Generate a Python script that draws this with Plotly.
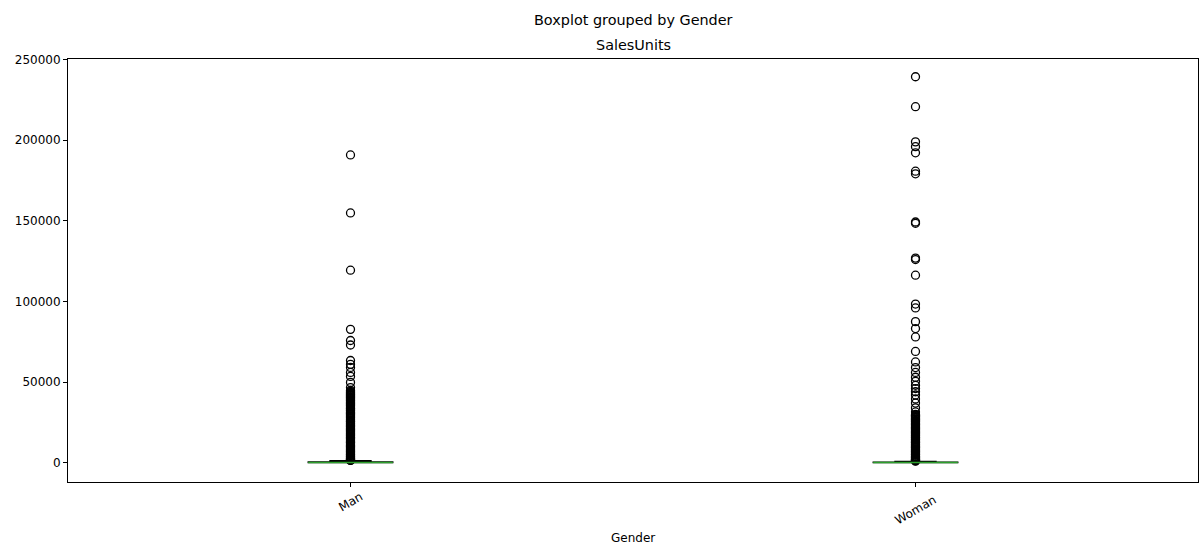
import plotly.graph_objects as go

# Box statistics of SalesUnits per gender
genders = ["Man", "Woman"]
q1 = [20, 15]
medians = [150, 100]
q3 = [600, 350]
lower_fence = [0, 0]
upper_fence = [1300, 800]

# Points beyond the upper whisker
man_outliers = [
    190900, 154900, 119400, 82700, 75800, 73000, 63400, 61000, 59100,
    56000, 53500, 49800, 46600, 44800, 44300, 43700, 43200, 42800, 42300,
    41900, 41400, 41000, 40500, 40100, 39600, 39000, 38600, 38100, 37500,
    37000, 36600, 36200, 35700, 35100, 34600, 34000, 33600, 33200, 32600,
    32100, 31500, 31000, 30600, 30200, 29700, 29100, 28500, 28000, 27300,
    26600, 26000, 25600, 25200, 24700, 24100, 23500, 23000, 22600, 22200,
    21600, 21000, 20600, 20100, 19700, 19200, 18600, 18000, 17600, 17100,
    16500, 16000, 15600, 15200, 14700, 14100, 13500, 13000, 12600, 12200,
    11600, 11000, 10600, 10100, 9700, 9200, 8700, 8100, 7500, 7000, 6600,
    6200, 5600, 5100, 4700, 4300, 3900, 3500, 3100, 2800, 2500, 2200, 1900,
    1700, 1500, 1400,
]
woman_outliers = [
    239400, 220800, 199000, 196000, 192200, 180800, 179200, 149300, 148500,
    126900, 126000, 116300, 98400, 96000, 87500, 83200, 78000, 69000, 62500,
    59000, 56000, 53000, 50500, 48000, 46000, 44000, 42000, 39500, 37000,
    34000, 31500, 30000, 29500, 29100, 28600, 28200, 27600, 27100, 26700,
    26300, 25700, 25200, 24600, 24100, 23700, 23300, 22600, 22000, 21600,
    21200, 20600, 20100, 19500, 19000, 18600, 18200, 17600, 17100, 16500,
    16000, 15600, 15200, 14600, 14100, 13500, 13000, 12600, 12200, 11600,
    11100, 10500, 10000, 9600, 9200, 8600, 8100, 7500, 7000, 6600, 6200,
    5600, 5100, 4700, 4200, 3800, 3400, 3000, 2600, 2200, 1900, 1600, 1400,
    1200, 1000,
]
outliers = [man_outliers, woman_outliers]

positions = [1, 2]
box_width = 0.15
median_color = "#2ca02c"
font_family = "DejaVu Sans"

fig = go.Figure()

for pos, name, a, m, b, lo, hi, pts in zip(
    positions, genders, q1, medians, q3, lower_fence, upper_fence, outliers
):
    fig.add_trace(go.Box(
        x=[pos], q1=[a], median=[m], q3=[b],
        lowerfence=[lo], upperfence=[hi],
        width=box_width, whiskerwidth=0.5,
        line=dict(color="black", width=1.2),
        fillcolor="rgba(0,0,0,0)",
        boxpoints=False, name=name, showlegend=False,
    ))
    fig.add_trace(go.Scatter(
        x=[pos] * len(pts), y=pts, mode="markers",
        marker=dict(symbol="circle-open", size=8, color="black",
                    line=dict(width=1.3, color="black")),
        showlegend=False, hoverinfo="y",
    ))
    fig.add_trace(go.Scatter(
        x=[pos - box_width / 2, pos + box_width / 2], y=[m, m],
        mode="lines", line=dict(color=median_color, width=1.5),
        showlegend=False, hoverinfo="skip",
    ))

fig.update_layout(
    width=1200, height=547,
    margin=dict(l=68, r=2, t=59, b=65),
    plot_bgcolor="white", paper_bgcolor="white",
    font=dict(family=font_family, size=12, color="black"),
    xaxis=dict(
        range=[0.5, 2.5], tickvals=positions, showticklabels=False,
        ticks="outside", ticklen=4, tickcolor="black",
        showline=True, linecolor="black", linewidth=1, mirror=True,
        showgrid=False, zeroline=False,
    ),
    yaxis=dict(
        range=[-11970, 250400], tickvals=[0, 50000, 100000, 150000, 200000, 250000],
        tickformat="d", ticks="outside", ticklen=4, tickcolor="black",
        showline=True, linecolor="black", linewidth=1, mirror=True,
        showgrid=False, zeroline=False,
    ),
    annotations=[
        dict(text="Boxplot grouped by Gender", x=0.5, y=1.0, xref="paper",
             yref="paper", yanchor="middle", yshift=39, showarrow=False,
             font=dict(size=14.4)),
        dict(text="SalesUnits", x=0.5, y=1.0, xref="paper", yref="paper",
             yanchor="bottom", yshift=4, showarrow=False,
             font=dict(size=14.4)),
        dict(text="Gender", x=0.5, y=0, xref="paper", yref="paper",
             yanchor="middle", yshift=-56, showarrow=False,
             font=dict(size=12)),
    ] + [
        dict(text=g, x=p, y=0, xref="x", yref="paper", yanchor="middle",
             yshift=ys, textangle=-30, showarrow=False, font=dict(size=12))
        for g, p, ys in zip(genders, positions, [-20, -28])
    ],
)

fig.write_html("out.html")
